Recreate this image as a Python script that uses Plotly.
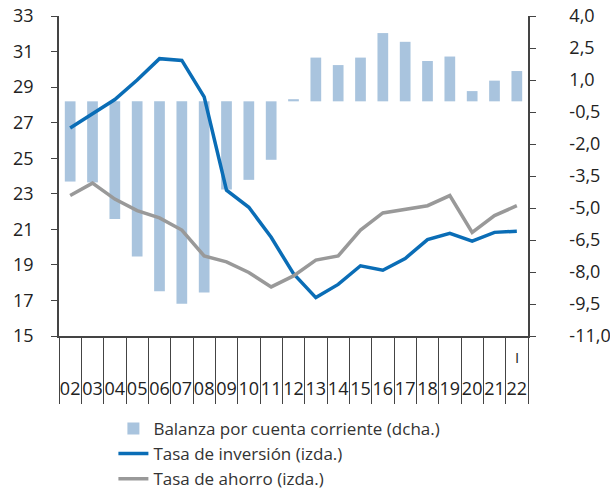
import plotly.graph_objects as go

years = ["02", "03", "04", "05", "06", "07", "08", "09", "10", "11", "12",
         "13", "14", "15", "16", "17", "18", "19", "20", "21", "22"]

balanza = [-3.76, -3.8, -5.51, -7.27, -8.9, -9.49, -8.96, -4.13, -3.68, -2.74, 0.1,
           2.05, 1.7, 2.05, 3.2, 2.79, 1.89, 2.1, 0.48, 0.97, 1.42]

inversion = [26.7, 27.5, 28.3, 29.4, 30.6, 30.5, 28.45, 23.2, 22.24, 20.55, 18.5,
             17.16, 17.9, 18.95, 18.7, 19.36, 20.42, 20.77, 20.34, 20.83, 20.89]

ahorro = [22.9, 23.6, 22.7, 22.05, 21.64, 20.96, 19.5, 19.17, 18.57, 17.76, 18.38,
          19.27, 19.5, 20.96, 21.92, 22.15, 22.33, 22.9, 20.83, 21.77, 22.33]

left_ticks = [15, 17, 19, 21, 23, 25, 27, 29, 31, 33]
right_tick_vals = [-11.0, -9.5, -8.0, -6.5, -5.0, -3.5, -2.0, -0.5, 1.0, 2.5, 4.0]
right_tick_labels = ["-11,0", "-9,5", "-8,0", "-6,5", "-5,0", "-3,5", "-2,0",
                     "-0,5", "1,0", "2,5", "4,0"]

FONT = "Open Sans"
TXT = "#222222"
AX = "#444444"

fig = go.Figure()
fig.add_trace(go.Bar(
    x=years, y=balanza, name="Balanza por cuenta corriente (dcha.)",
    marker=dict(color="#A9C4DE", line=dict(width=0)), yaxis="y"))
fig.add_trace(go.Scatter(
    x=years, y=inversion, name="Tasa de inversión (izda.)", mode="lines",
    line=dict(color="#0A6DB6", width=3.5), yaxis="y2"))
fig.add_trace(go.Scatter(
    x=years, y=ahorro, name="Tasa de ahorro (izda.)", mode="lines",
    line=dict(color="#999999", width=3.5), yaxis="y2"))

fig.add_annotation(x=20, y=-0.066, xref="x", yref="paper", text="I",
                   yanchor="middle", showarrow=False,
                   font=dict(family=FONT, size=15, color=TXT))

fig.update_layout(
    width=610, height=492,
    margin=dict(l=59, r=82, t=16, b=156, autoexpand=False),
    paper_bgcolor="white", plot_bgcolor="white",
    font=dict(family=FONT, size=18, color=TXT),
    bargap=0.52,
    showlegend=True,
    legend=dict(x=0.116, y=-0.234, xanchor="left", yanchor="top",
                orientation="v", font=dict(size=17, color="#333333"),
                tracegroupgap=0, itemwidth=30, bgcolor="rgba(0,0,0,0)"),
    xaxis=dict(type="category", categoryorder="array", categoryarray=years,
               tickmode="linear", dtick=1, automargin=False,
               ticks="outside", tickson="boundaries", ticklen=66,
               tickcolor=AX, tickwidth=1, showline=True, linecolor=AX,
               linewidth=1.5, showgrid=False, tickangle=0,
               ticklabelstandoff=36, tickfont=dict(size=18)),
    yaxis=dict(side="right", range=[-11, 4], tickvals=right_tick_vals,
               ticktext=right_tick_labels, ticks="outside", ticklen=6,
               tickcolor=AX, showline=True, linecolor=AX, linewidth=1.5,
               showgrid=False, zeroline=False, tickfont=dict(size=18),
               ticklabelstandoff=30, automargin=False),
    yaxis2=dict(side="left", overlaying="y", range=[15, 33],
                tickvals=left_ticks, ticks="outside", ticklen=6,
                tickcolor=AX, showline=True, linecolor=AX, linewidth=1.5,
                showgrid=False, zeroline=False, tickfont=dict(size=18),
                ticklabelstandoff=14, automargin=False),
)

fig.write_html("out.html", config={"displayModeBar": False},
               post_script="document.body.style.margin='0';")
